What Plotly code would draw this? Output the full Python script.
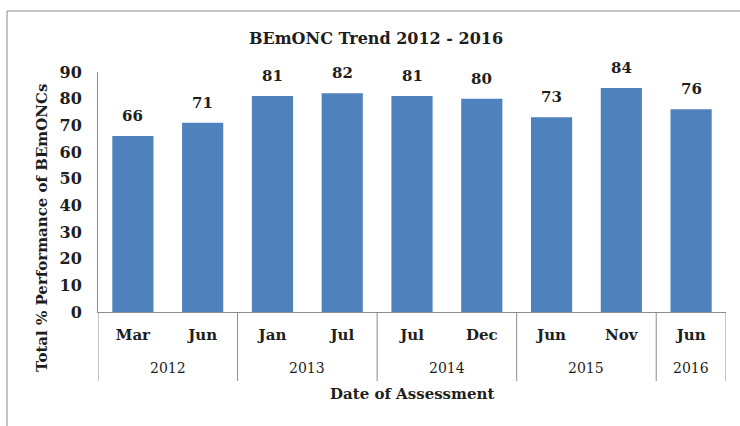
import plotly.graph_objects as go

years = ["2012", "2012", "2013", "2013", "2014", "2014", "2015", "2015", "2016"]
months = ["Mar", "Jun", "Jan", "Jul", "Jul", "Dec", "Jun", "Nov", "Jun"]
values = [66, 71, 81, 82, 81, 80, 73, 84, 76]
y_ticks = [0, 10, 20, 30, 40, 50, 60, 70, 80, 90]

FONT = "DejaVu Serif"
AXIS_COLOR = "#8c8c8c"
TXT = "#1e1e1e"

xs = list(range(len(months)))

fig = go.Figure()
fig.add_trace(go.Bar(
    x=xs, y=values,
    marker=dict(color="#4f81bd", line=dict(width=0)),
    width=0.59,
    hoverinfo="y",
))

# data labels
for xi, v in zip(xs, values):
    fig.add_annotation(x=xi, y=v, text="<b>%d</b>" % v, showarrow=False,
                       yanchor="bottom", yshift=9,
                       font=dict(family=FONT, size=15, color=TXT))

# year group labels and dividers
groups = []
for i, yv in enumerate(years):
    if groups and groups[-1][0] == yv:
        groups[-1][2] = i
    else:
        groups.append([yv, i, i])
for yv, i0, i1 in groups:
    fig.add_annotation(x=(i0 + i1) / 2, xref="x", y=-(368 - 312) / 240, yref="paper",
                       text=yv, showarrow=False, yanchor="middle",
                       font=dict(family=FONT, size=14, color=TXT))
bounds = [g[1] - 0.5 for g in groups] + [groups[-1][2] + 0.5]
for b in bounds:
    fig.add_shape(type="line", xref="x", yref="paper", x0=b, x1=b,
                  y0=0, y1=-(381 - 312) / 240,
                  line=dict(color=AXIS_COLOR, width=1))

fig.update_layout(
    width=740, height=426,
    margin=dict(l=98, r=14, t=72, b=114, autoexpand=False),
    paper_bgcolor="white", plot_bgcolor="white",
    showlegend=False,
    font=dict(family=FONT, color=TXT),
    title=dict(text="<b>BEmONC Trend 2012 - 2016</b>", x=376 / 740, xanchor="center",
               y=1 - 38 / 426, yanchor="middle",
               font=dict(family=FONT, size=16, color=TXT)),
)

fig.update_xaxes(
    range=[-0.5, len(months) - 0.5],
    tickvals=xs, ticktext=["<b>%s</b>" % m for m in months],
    showline=True, linecolor=AXIS_COLOR, linewidth=1,
    ticks="", showgrid=False, zeroline=False, automargin=False,
    ticklabelstandoff=9,
    tickfont=dict(family=FONT, size=15, color=TXT),
)
fig.update_yaxes(
    range=[0, 90], tickvals=y_ticks,
    ticktext=["<b>%d</b>" % v for v in y_ticks],
    showline=True, linecolor=AXIS_COLOR, linewidth=1,
    ticks="", showgrid=False, zeroline=False, automargin=False,
    ticklabelstandoff=12,
    tickfont=dict(family=FONT, size=16, color=TXT),
)

fig.add_annotation(text="<b>Date of Assessment</b>", xref="paper", yref="paper",
                   x=0.5, y=-(394 - 312) / 240, showarrow=False,
                   font=dict(family=FONT, size=15, color=TXT),
                   xanchor="center", yanchor="middle")
fig.add_annotation(text="<b>Total % Performance of BEmONCs</b>", xref="paper", yref="paper",
                   x=-(98 - 42) / 628, y=(312 - 228) / 240, showarrow=False, textangle=-90,
                   font=dict(family=FONT, size=15, color=TXT),
                   xanchor="center", yanchor="middle")

fig.add_shape(type="rect", xref="paper", yref="paper",
              x0=-(98 - 7) / 628, x1=(748 - 98) / 628,
              y0=-(440 - 312) / 240, y1=(312 - 11) / 240,
              line=dict(color=AXIS_COLOR, width=1), fillcolor="rgba(0,0,0,0)", layer="below")

fig.write_html("out.html", config={"displayModeBar": False},
               post_script="document.body.style.margin='0';")
